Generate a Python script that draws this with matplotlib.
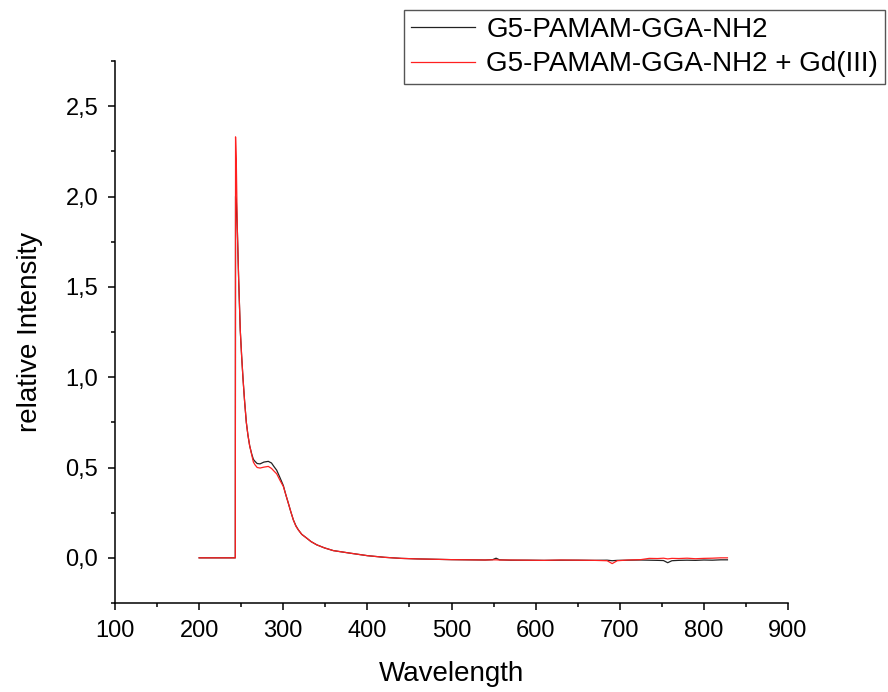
import matplotlib
matplotlib.use("Agg")
import matplotlib.pyplot as plt
from matplotlib.ticker import MultipleLocator, FuncFormatter

plt.rcParams['font.family'] = ['Liberation Sans', 'DejaVu Sans']

# Data
wavelength = [200, 243.0, 243.3, 244.2, 245.4, 247.0, 248.9, 250.5, 252.2, 254.0,
              256.1, 258.0, 260.1, 262.5, 264.5, 266.4, 269.0, 272.4, 277.0, 282.2,
              286.0, 289.0, 292.2, 296.0, 300.1, 303.0, 306.0, 309.0, 312.0, 315.0,
              317.9, 322.0, 327.9, 333.0, 339.8, 349.0, 359.5, 379.3, 400, 420, 440,
              460, 480, 500, 520, 540, 549, 553, 557, 570, 590, 610, 630, 650, 670,
              685, 691, 697, 710, 725, 735, 745, 752, 757, 762, 770, 780, 790, 800,
              810, 820, 828]

intensity_plain = [0, 0, 2.00, 1.98, 1.82, 1.54, 1.26, 1.12, 0.99, 0.87,
                   0.75, 0.68, 0.62, 0.575, 0.545, 0.534, 0.522, 0.52, 0.53, 0.534,
                   0.525, 0.505, 0.485, 0.445, 0.40, 0.35, 0.303, 0.255, 0.21, 0.178,
                   0.155, 0.13, 0.109, 0.09, 0.072, 0.055, 0.04, 0.026, 0.012, 0.003,
                   -0.003, -0.006, -0.008, -0.010, -0.011, -0.012, -0.010, -0.002,
                   -0.011, -0.013, -0.013, -0.014, -0.013, -0.013, -0.014, -0.013,
                   -0.016, -0.014, -0.013, -0.012, -0.013, -0.014, -0.015, -0.027,
                   -0.016, -0.014, -0.013, -0.014, -0.012, -0.013, -0.011, -0.011]

intensity_gd = [0, 0, 2.33, 2.19, 1.82, 1.54, 1.26, 1.12, 0.99, 0.87,
                0.75, 0.68, 0.62, 0.57, 0.53, 0.515, 0.50, 0.497, 0.502, 0.506,
                0.495, 0.48, 0.465, 0.43, 0.395, 0.35, 0.303, 0.255, 0.21, 0.175,
                0.155, 0.13, 0.109, 0.09, 0.072, 0.055, 0.04, 0.026, 0.012, 0.003,
                -0.003, -0.006, -0.008, -0.010, -0.011, -0.012, -0.011, -0.011,
                -0.012, -0.012, -0.013, -0.014, -0.012, -0.013, -0.014, -0.016,
                -0.032, -0.016, -0.012, -0.010, -0.003, -0.004, -0.002, -0.006,
                -0.003, -0.004, -0.002, -0.005, -0.003, -0.002, 0.000, 0.000]

labels = ["G5-PAMAM-GGA-NH2", "G5-PAMAM-GGA-NH2 + Gd(III)"]

fig = plt.figure(figsize=(8.88, 6.92), dpi=100)
ax = fig.add_axes([115/888, 1-603/692, (788-115)/888, (603-61)/692])

ax.plot(wavelength, intensity_plain, color='#222222', lw=0.9, label=labels[0])
ax.plot(wavelength, intensity_gd, color='#ff2020', lw=0.9, label=labels[1])

ax.set_xlim(100, 900)
ax.set_ylim(-0.25, 2.75)

ax.spines['top'].set_visible(False)
ax.spines['right'].set_visible(False)
for s in ('left', 'bottom'):
    ax.spines[s].set_linewidth(1.1)

ax.xaxis.set_major_locator(MultipleLocator(100))
ax.xaxis.set_minor_locator(MultipleLocator(50))
ax.yaxis.set_minor_locator(MultipleLocator(0.25))
ax.set_yticks([0, 0.5, 1.0, 1.5, 2.0, 2.5])
ax.yaxis.set_major_formatter(FuncFormatter(lambda v, p: f"{v:.1f}".replace('.', ',')))

ax.tick_params(which='major', direction='out', length=5, width=1.1, labelsize=17, pad=7)
ax.tick_params(which='minor', direction='out', length=3, width=1.1)

ax.set_xlabel("Wavelength", fontsize=20, labelpad=14)
ax.set_ylabel("relative Intensity", fontsize=20, labelpad=16)

leg = fig.legend(loc='upper right', bbox_to_anchor=(885/888, 1-10/692),
                 bbox_transform=fig.transFigure, fontsize=20, frameon=True,
                 fancybox=False, edgecolor='#555555', framealpha=1,
                 handlelength=2.3, handletextpad=0.4, borderpad=0.25,
                 labelspacing=0.3, borderaxespad=0)
leg.get_frame().set_linewidth(1.0)

fig.savefig("out.png", dpi=100)
